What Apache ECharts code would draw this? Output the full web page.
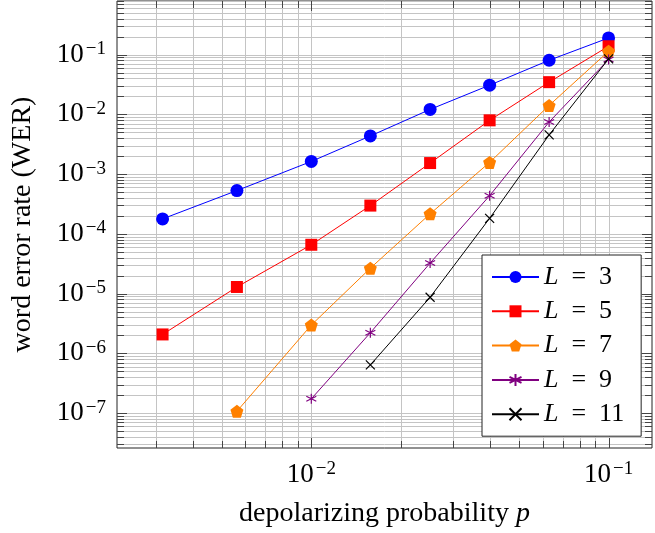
<!DOCTYPE html>
<html>
<head>
<meta charset="utf-8">
<script src="https://cdn.jsdelivr.net/npm/echarts@6/dist/echarts.min.js"></script>
<style>html,body{margin:0;padding:0;background:#fff;}#c{width:655px;height:533px;}</style>
</head>
<body>
<div id="c"></div>
<script>
// ---- data ----
const pValues = [0.00316, 0.00562, 0.01, 0.0158, 0.0251, 0.0398, 0.0631, 0.1];
const werL3  = [1.78e-4, 5.3e-4, 1.63e-3, 4.35e-3, 1.21e-2, 3.08e-2, 8.05e-2, 0.19];
const werL5  = [2.07e-6, 1.29e-5, 6.56e-5, 2.97e-4, 1.53e-3, 7.94e-3, 3.46e-2, 0.138];
const werL7  = [null, 1.07e-7, 2.97e-6, 2.66e-5, 2.16e-4, 1.57e-3, 1.41e-2, 0.1135];
const werL9  = [null, null, 1.73e-7, 2.21e-6, 3.24e-5, 4.35e-4, 7.45e-3, 0.0826];
const werL11 = [null, null, null, 6.39e-7, 8.68e-6, 1.82e-4, 4.53e-3, 0.0847];
const seriesNames = ['L = 3', 'L = 5', 'L = 7', 'L = 9', 'L = 11'];
const xTickExponents = [-2, -1];
const yTickExponents = [-7, -6, -5, -4, -3, -2, -1];
const xDecades = [-3, -2, -1];
const yDecades = [-8, -7, -6, -5, -4, -3, -2, -1];
const multipliers = [1, 2, 3, 4, 5, 6, 7, 8, 9];

const FONT = '"Liberation Serif", "DejaVu Serif", serif';
const colors = ['#0000ff', '#ff0000', '#ff8000', '#800080', '#000000'];
const asteriskPath = 'path://M0,-1L0,1M-0.866,-0.5L0.866,0.5M-0.866,0.5L0.866,-0.5';
const crossPath = 'path://M-1,-1L1,1M-1,1L1,-1';
const symbols = ['circle', 'rect', 'path://M0,-1L0.951,-0.309L0.588,0.809L-0.588,0.809L-0.951,-0.309Z', asteriskPath, crossPath];
const symbolSizes = [13, 12, 13, 10, 9];

function pairs(ys) {
  const out = [];
  ys.forEach((y, i) => { if (y != null) out.push([pValues[i], y]); });
  return out;
}
const allWer = [werL3, werL5, werL7, werL9, werL11];

function supLabel(v) {
  const e = Math.round(Math.log10(v));
  return '{b|10}{e|\u2212' + Math.abs(e) + '}';
}
const richLabel = {
  b: { fontSize: 27, fontFamily: FONT, color: '#000', lineHeight: 30 },
  e: { fontSize: 19, fontFamily: FONT, color: '#000', lineHeight: 18, verticalAlign: 'top', padding: [0, 0, 0, 2] }
};

const xMin = 0.00222, xMax = 0.14, yMin = 2.6e-8, yMax = 0.79;

function gridValues(decades) {
  const out = [];
  decades.forEach(d => multipliers.forEach(m => out.push({ v: m * Math.pow(10, d), major: m === 1 })));
  return out;
}
const xGrid = gridValues(xDecades);
const yGrid = gridValues(yDecades);

function isLabelled(v, exps) {
  const l = Math.log10(v), r = Math.round(l);
  return Math.abs(l - r) < 1e-6 && exps.indexOf(r) >= 0;
}

function renderDecor(withGrid) {
  return function (params, api) {
    const cs = params.coordSys;
    const x0 = cs.x, x1 = cs.x + cs.width, y0 = cs.y, y1 = cs.y + cs.height;
    const children = [];
    const gridStyle = { stroke: '#c4c4c4', lineWidth: 1 };
    const tickStyle = { stroke: '#444', lineWidth: 1 };
    xGrid.forEach(g => {
      const px = Math.round(api.coord([g.v, 1e-3])[0]) + 0.5;
      if (px < x0 || px > x1) return;
      if (withGrid) {
        children.push({ type: 'line', shape: { x1: px, y1: y0, x2: px, y2: y1 }, style: gridStyle });
      } else {
        const len = g.major ? 10 : 7;
        children.push({ type: 'line', shape: { x1: px, y1: y1, x2: px, y2: y1 - len }, style: tickStyle });
        children.push({ type: 'line', shape: { x1: px, y1: y0, x2: px, y2: y0 + len }, style: tickStyle });
      }
    });
    yGrid.forEach(g => {
      const py = Math.round(api.coord([0.01, g.v])[1]) + 0.5;
      if (py < y0 || py > y1) return;
      if (withGrid) {
        children.push({ type: 'line', shape: { x1: x0, y1: py, x2: x1, y2: py }, style: gridStyle });
      } else {
        const len = g.major ? 10 : 7;
        children.push({ type: 'line', shape: { x1: x0, y1: py, x2: x0 + len, y2: py }, style: tickStyle });
        children.push({ type: 'line', shape: { x1: x1, y1: py, x2: x1 - len, y2: py }, style: tickStyle });
      }
    });
    return { type: 'group', children: children, silent: true };
  };
}

const chart = echarts.init(document.getElementById('c'), null, { renderer: 'canvas' });

const lineSeries = allWer.map((ys, i) => ({
  name: seriesNames[i],
  type: 'line',
  data: pairs(ys),
  symbol: symbols[i],
  symbolSize: symbolSizes[i],
  showAllSymbol: true,
  z: 5,
  lineStyle: { color: colors[i], width: 1 },
  itemStyle: { color: colors[i], borderColor: colors[i], borderWidth: (i >= 3 ? 1.2 : 0) },
  emphasis: { disabled: true },
  animation: false
}));

const SP = '\u2002';

chart.setOption({
  animation: false,
  backgroundColor: '#fff',
  grid: {
    left: 117, top: 1, right: -2, bottom: 83,
    show: true, borderColor: '#222', borderWidth: 1, backgroundColor: 'transparent'
  },
  xAxis: {
    type: 'log', logBase: 10, min: xMin, max: xMax,
    name: 'depolarizing probability {i|p}',
    nameLocation: 'middle', nameGap: 52,
    nameTextStyle: {
      fontSize: 28, fontFamily: FONT, color: '#000',
      rich: { i: { fontSize: 28, fontFamily: FONT, fontStyle: 'italic', color: '#000' } }
    },
    axisLine: { show: false },
    axisTick: { show: false },
    splitLine: { show: false },
    axisLabel: {
      margin: 12,
      formatter: v => isLabelled(v, xTickExponents) ? supLabel(v) : '',
      rich: richLabel
    }
  },
  yAxis: {
    type: 'log', logBase: 10, min: yMin, max: yMax,
    name: 'word error rate (WER)',
    nameLocation: 'middle', nameGap: 80,
    nameTextStyle: { fontSize: 28, fontFamily: FONT, color: '#000' },
    axisLine: { show: false },
    axisTick: { show: false },
    splitLine: { show: false },
    axisLabel: {
      margin: 11,
      formatter: v => isLabelled(v, yTickExponents) ? supLabel(v) : '',
      rich: richLabel
    }
  },
  legend: {
    orient: 'vertical',
    left: 482, top: 255,
    padding: [9, 17, 9, 9],
    itemGap: 8.3,
    itemWidth: 47, itemHeight: 15,
    itemTextGap: 12,
    backgroundColor: '#fff',
    borderColor: '#222', borderWidth: 1, borderRadius: 0,
    data: seriesNames,
    selectedMode: false,
    formatter: name => '{i|L}' + SP + '=' + SP + name.split('= ')[1],
    textStyle: {
      fontSize: 26, fontFamily: FONT, color: '#000', lineHeight: 26,
      rich: { i: { fontSize: 26, fontFamily: FONT, fontStyle: 'italic', color: '#000', lineHeight: 26 } }
    }
  },
  series: [
    { type: 'custom', name: 'grid', silent: true, z: 1, clip: false, renderItem: renderDecor(true), data: [[0.01, 0.001]], animation: false },
    { type: 'custom', name: 'ticks', silent: true, z: 2, clip: false, renderItem: renderDecor(false), data: [[0.01, 0.001]], animation: false }
  ].concat(lineSeries)
});
</script>
</body>
</html>
